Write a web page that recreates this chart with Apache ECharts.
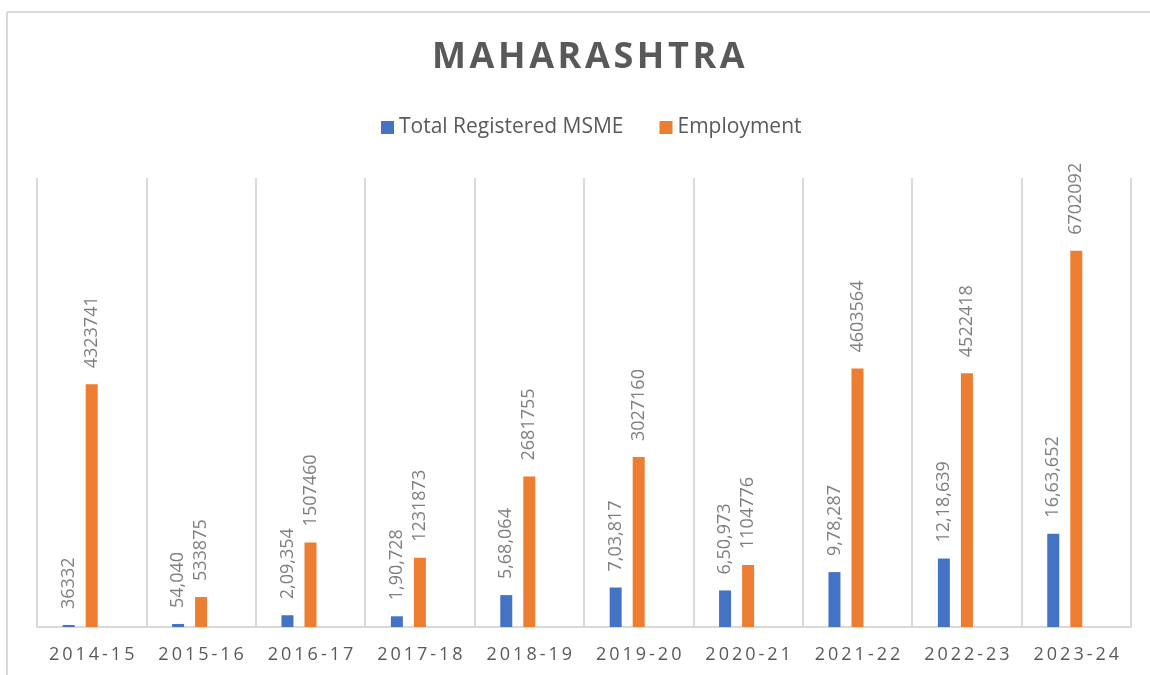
<!DOCTYPE html>
<html>
<head>
<meta charset="utf-8">
<script src="https://cdn.jsdelivr.net/npm/echarts@6/dist/echarts.min.js"></script>
<style>
  html, body { margin: 0; padding: 0; background: #fff; }
  #main { width: 1150px; height: 675px; }
</style>
</head>
<body>
<div id="main"></div>
<script>
var years = ['2014-15', '2015-16', '2016-17', '2017-18', '2018-19', '2019-20', '2020-21', '2021-22', '2022-23', '2023-24'];
var msme = [36332, 54040, 209354, 190728, 568064, 703817, 650973, 978287, 1218639, 1663652];
var msmeLabels = ['36332', '54,040', '2,09,354', '1,90,728', '5,68,064', '7,03,817', '6,50,973', '9,78,287', '12,18,639', '16,63,652'];
var employment = [4323741, 533875, 1507460, 1231873, 2681755, 3027160, 1104776, 4603564, 4522418, 6702092];

var spaced = function (s, sep) { return s.split('').join(sep || '\u2009'); };

var myChart = echarts.init(document.getElementById('main'));

var labelStyle = {
	show: true,
	position: 'top',
	rotate: 90,
	align: 'left',
	verticalAlign: 'middle',
	distance: 16,
	color: '#7f7f7f',
	fontFamily: 'Open Sans',
	fontSize: 18
};

myChart.setOption({
	animation: false,
	title: {
		text: spaced('MAHARASHTRA', '\u200A'),
		left: 427,
		top: 35,
		textStyle: {
			fontFamily: 'Open Sans',
			fontWeight: 'bold',
			fontSize: 36,
			color: '#595959'
		}
	},
	legend: {
		top: 112,
		left: 376,
		itemWidth: 13,
		itemHeight: 13,
		itemGap: 36,
		icon: 'rect',
		textStyle: {
			fontFamily: 'Open Sans',
			fontSize: 21,
			color: '#595959'
		},
		data: ['Total Registered MSME', 'Employment']
	},
	grid: {
		left: 37,
		right: 19,
		top: 178,
		bottom: 48
	},
	xAxis: {
		type: 'category',
		data: years,
		axisTick: { show: false },
		axisLine: { lineStyle: { color: '#d9d9d9', width: 2 } },
		splitLine: { show: true, interval: 0, lineStyle: { color: '#d9d9d9', width: 2 } },
		axisLabel: {
			interval: 0,
			color: '#595959',
			fontFamily: 'Open Sans',
			fontSize: 18,
			margin: 19,
			formatter: function (s) { return spaced(s); }
		}
	},
	yAxis: {
		type: 'value',
		min: 0,
		max: 8000000,
		show: false,
		splitLine: { show: false }
	},
	series: [
		{
			name: 'Total Registered MSME',
			type: 'bar',
			data: msme,
			barWidth: 12,
			barGap: '92%',
			barCategoryGap: '47%',
			itemStyle: { color: '#4472C4' },
			label: Object.assign({}, labelStyle, {
				formatter: function (p) { return msmeLabels[p.dataIndex]; }
			})
		},
		{
			name: 'Employment',
			type: 'bar',
			data: employment,
			barWidth: 12,
			itemStyle: { color: '#ED7D31' },
			label: labelStyle
		},
		{
			name: 'spacer',
			type: 'bar',
			data: years.map(function () { return null; }),
			barWidth: 12
		}
	],
	graphic: [
		{ type: 'line', shape: { x1: 7, y1: 12, x2: 1150, y2: 12 }, style: { stroke: '#d9d9d9', lineWidth: 2 } },
		{ type: 'line', shape: { x1: 7, y1: 12, x2: 7, y2: 675 }, style: { stroke: '#d9d9d9', lineWidth: 2 } }
	]
});
</script>
</body>
</html>
